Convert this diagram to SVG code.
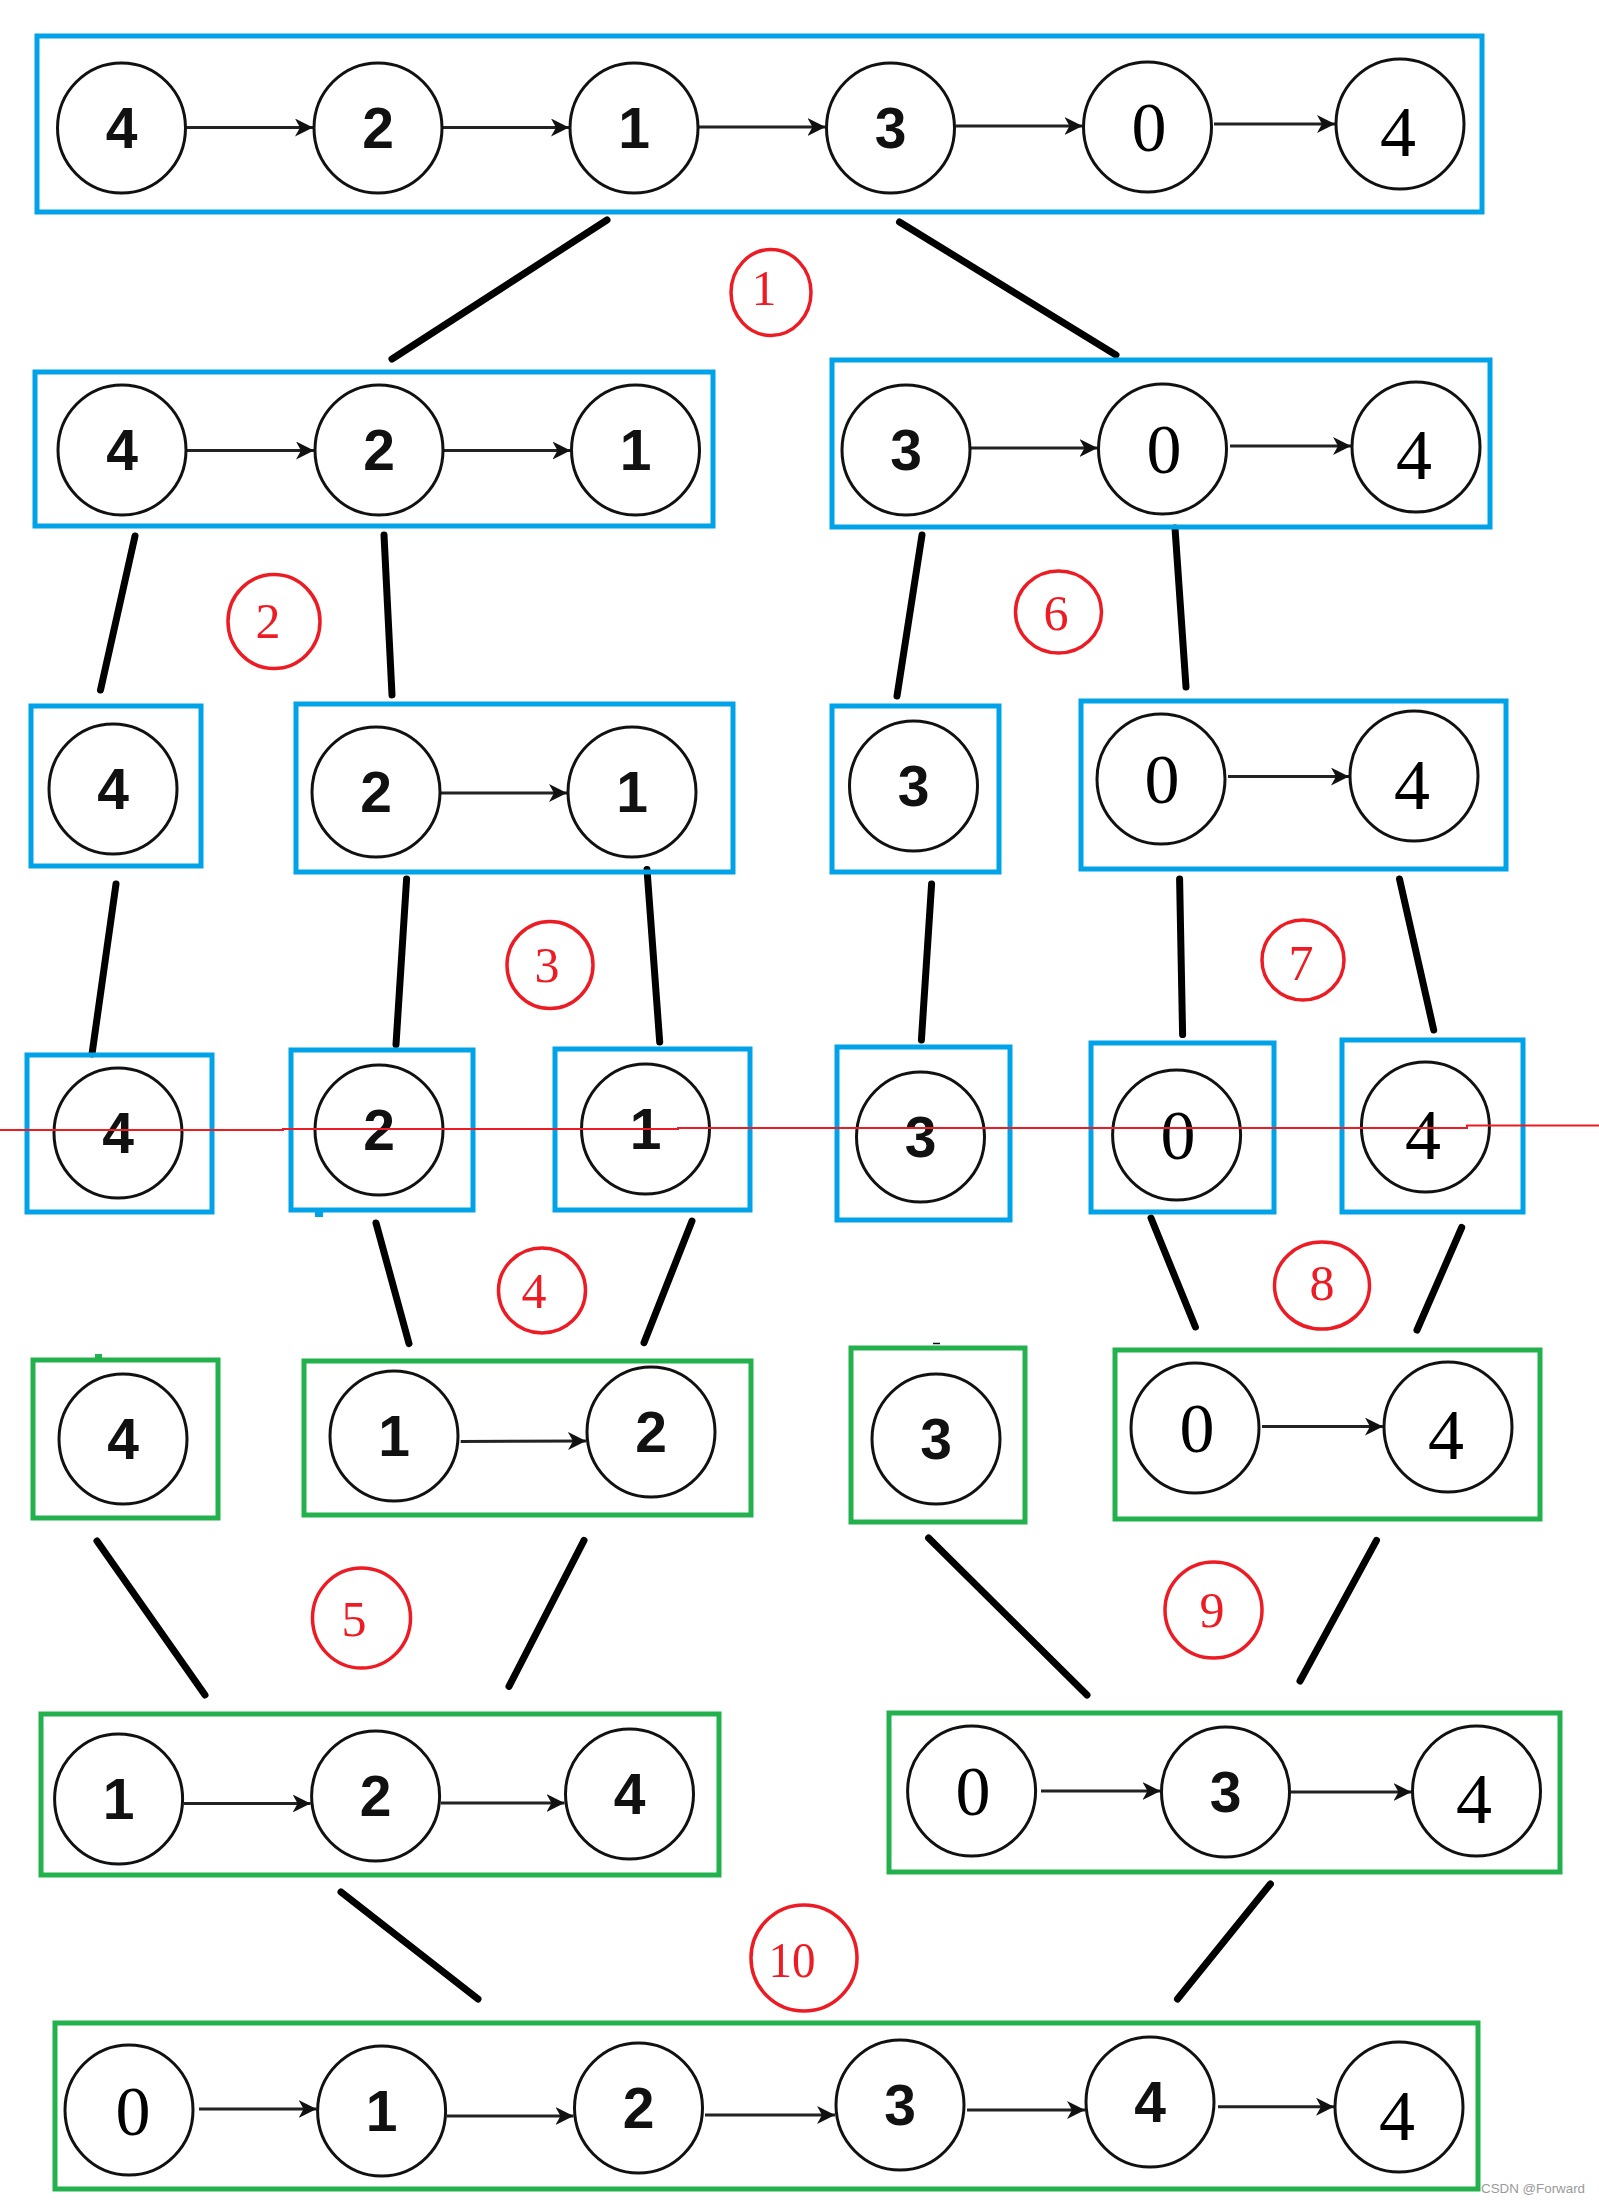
<svg xmlns="http://www.w3.org/2000/svg" width="1599" height="2203" viewBox="0 0 1599 2203">
<defs>
<marker id="ah" markerUnits="userSpaceOnUse" markerWidth="22" markerHeight="20" refX="18" refY="9" orient="auto" viewBox="0 0 22 20">
<path d="M0,0 L18,9 L0,18 L5,9 Z" fill="#111"/>
</marker>
<style>
.bb{fill:none;stroke:#00a2e8;stroke-width:5}
.bg{fill:none;stroke:#22b14c;stroke-width:5}
.c{fill:#fff;stroke:#111;stroke-width:3}
.s{font-family:"Liberation Sans",Arial,sans-serif;font-weight:bold;font-size:57px;text-anchor:middle;fill:#111}
.t{font-family:"Liberation Serif","Times New Roman",serif;font-size:70px;text-anchor:middle;fill:#000}
.t4{font-size:72px}
.link{stroke:#000;stroke-width:7;stroke-linecap:round;fill:none}
.arr{stroke:#222;stroke-width:3;fill:none;marker-end:url(#ah)}
.rc{fill:none;stroke:#ed1c24;stroke-width:3.5}
.rt{font-family:"Liberation Serif","Times New Roman",serif;font-size:50px;text-anchor:middle;fill:#ed1c24}
.wm{font-family:"Liberation Sans",Arial,sans-serif;font-size:13px;fill:#9a9a9a}
</style>
</defs>
<rect width="1599" height="2203" fill="#fff"/>

<g id="connectors">
<g id="split-merge-lines">
<line class="link" x1="607" y1="220" x2="392" y2="359"/>
<line class="link" x1="899.5" y1="222" x2="1116" y2="355"/>
<line class="link" x1="135" y1="536" x2="100.5" y2="690"/>
<line class="link" x1="384" y1="535" x2="392" y2="695"/>
<line class="link" x1="922" y1="535" x2="897" y2="696"/>
<line class="link" x1="1175" y1="528" x2="1186" y2="687"/>
<line class="link" x1="116" y1="884" x2="92" y2="1054"/>
<line class="link" x1="406.6" y1="879" x2="396" y2="1044.5"/>
<line class="link" x1="647" y1="869.5" x2="659.7" y2="1042"/>
<line class="link" x1="931.6" y1="884" x2="921.4" y2="1040"/>
<line class="link" x1="1179.6" y1="879" x2="1182.6" y2="1034.6"/>
<line class="link" x1="1399.5" y1="879" x2="1433.7" y2="1030"/>
<line class="link" x1="376" y1="1223" x2="409" y2="1343.6"/>
<line class="link" x1="692" y1="1221" x2="644" y2="1342.7"/>
<line class="link" x1="1151" y1="1218" x2="1195.4" y2="1327"/>
<line class="link" x1="1461.7" y1="1227.5" x2="1417" y2="1330"/>
<line class="link" x1="97" y1="1541" x2="205" y2="1695"/>
<line class="link" x1="584" y1="1540.4" x2="509" y2="1686.4"/>
<line class="link" x1="928.6" y1="1538" x2="1087" y2="1695"/>
<line class="link" x1="1376.5" y1="1540.4" x2="1300" y2="1681"/>
<line class="link" x1="341" y1="1892" x2="478" y2="1999"/>
<line class="link" x1="1270.4" y1="1884" x2="1177.5" y2="1999"/>
</g>
<g id="list-arrows">
<line class="arr" x1="186.5" y1="127.5" x2="313" y2="127.5"/>
<line class="arr" x1="443" y1="127.5" x2="569" y2="127.5"/>
<line class="arr" x1="699" y1="127" x2="825.5" y2="127"/>
<line class="arr" x1="955.5" y1="126" x2="1082.5" y2="126"/>
<line class="arr" x1="1214" y1="124" x2="1335" y2="124"/>
<line class="arr" x1="187" y1="450.5" x2="314" y2="450.5"/>
<line class="arr" x1="444" y1="450.5" x2="570.5" y2="450.5"/>
<line class="arr" x1="971" y1="448" x2="1097.5" y2="448"/>
<line class="arr" x1="1230" y1="446" x2="1351" y2="446"/>
<line class="arr" x1="441" y1="793" x2="567" y2="793"/>
<line class="arr" x1="1228" y1="776.6" x2="1349" y2="776.6"/>
<line class="arr" x1="460.7" y1="1441.5" x2="586" y2="1441"/>
<line class="arr" x1="1262" y1="1426.6" x2="1383" y2="1426.6"/>
<line class="arr" x1="184" y1="1803.5" x2="310.6" y2="1803.5"/>
<line class="arr" x1="441" y1="1803" x2="564.5" y2="1803"/>
<line class="arr" x1="1041" y1="1791" x2="1160.5" y2="1791"/>
<line class="arr" x1="1291" y1="1792" x2="1411.5" y2="1792"/>
<line class="arr" x1="199" y1="2109" x2="316.6" y2="2109"/>
<line class="arr" x1="447" y1="2116" x2="573.5" y2="2116"/>
<line class="arr" x1="705" y1="2115" x2="835" y2="2115"/>
<line class="arr" x1="967" y1="2110" x2="1085" y2="2110"/>
<line class="arr" x1="1218" y1="2106.7" x2="1334" y2="2106.7"/>
</g>
</g>

<g id="row1-421304">
<rect class="bb" x="37" y="36" width="1445" height="176"/>
<ellipse class="c" cx="121.5" cy="128" rx="64" ry="65"/><text class="s" x="121.5" y="148">4</text>
<ellipse class="c" cx="378" cy="128" rx="64" ry="65"/><text class="s" x="378" y="148">2</text>
<ellipse class="c" cx="634" cy="128" rx="64" ry="65"/><text class="s" x="634" y="148">1</text>
<ellipse class="c" cx="890.5" cy="128" rx="64" ry="65"/><text class="s" x="890.5" y="148">3</text>
<ellipse class="c" cx="1147.5" cy="127" rx="64" ry="65"/><text class="t" x="1149" y="151">0</text>
<ellipse class="c" cx="1400" cy="124" rx="64" ry="65"/><text class="t t4" x="1398" y="156">4</text>
</g>

<g id="row2-421">
<rect class="bb" x="35" y="372" width="678" height="154"/>
<ellipse class="c" cx="122" cy="450" rx="64" ry="65"/><text class="s" x="122" y="470">4</text>
<ellipse class="c" cx="379" cy="450" rx="64" ry="65"/><text class="s" x="379" y="470">2</text>
<ellipse class="c" cx="635.5" cy="450" rx="64" ry="65"/><text class="s" x="635.5" y="470">1</text>
</g>
<g id="row2-304">
<rect class="bb" x="832" y="360" width="658" height="167"/>
<ellipse class="c" cx="906" cy="450" rx="64" ry="65"/><text class="s" x="906" y="470">3</text>
<ellipse class="c" cx="1162.5" cy="449" rx="64" ry="65"/><text class="t" x="1164" y="473">0</text>
<ellipse class="c" cx="1416" cy="447" rx="64" ry="65"/><text class="t t4" x="1414" y="479">4</text>
</g>

<g id="row3-4">
<rect class="bb" x="31" y="706" width="170" height="160"/>
<ellipse class="c" cx="113" cy="789" rx="64" ry="65"/><text class="s" x="113" y="809">4</text>
</g>
<g id="row3-21">
<rect class="bb" x="296" y="704" width="437" height="168"/>
<ellipse class="c" cx="376" cy="792" rx="64" ry="65"/><text class="s" x="376" y="812">2</text>
<ellipse class="c" cx="632" cy="792" rx="64" ry="65"/><text class="s" x="632" y="812">1</text>
</g>
<g id="row3-3">
<rect class="bb" x="832" y="706" width="167" height="166"/>
<ellipse class="c" cx="913.5" cy="786" rx="64" ry="65"/><text class="s" x="913.5" y="806">3</text>
</g>
<g id="row3-04">
<rect class="bb" x="1081" y="701" width="425" height="168"/>
<ellipse class="c" cx="1161" cy="779" rx="64" ry="65"/><text class="t" x="1162" y="803">0</text>
<ellipse class="c" cx="1414" cy="776" rx="64" ry="65"/><text class="t t4" x="1412" y="809">4</text>
</g>

<g id="row4-4a">
<rect class="bb" x="27" y="1055" width="185" height="157"/>
<ellipse class="c" cx="118" cy="1133" rx="64" ry="65"/><text class="s" x="118" y="1153">4</text>
</g>
<g id="row4-2">
<rect class="bb" x="291" y="1050" width="182" height="160"/>
<rect x="315" y="1210" width="8" height="7" fill="#00a2e8"/>
<ellipse class="c" cx="379" cy="1130" rx="64" ry="65"/><text class="s" x="379" y="1150">2</text>
</g>
<g id="row4-1">
<rect class="bb" x="555" y="1049" width="195" height="161"/>
<ellipse class="c" cx="645.5" cy="1129" rx="64" ry="65"/><text class="s" x="645.5" y="1149">1</text>
</g>
<g id="row4-3">
<rect class="bb" x="837" y="1047" width="173" height="173"/>
<ellipse class="c" cx="920.5" cy="1137" rx="64" ry="65"/><text class="s" x="920.5" y="1157">3</text>
</g>
<g id="row4-0">
<rect class="bb" x="1091" y="1043" width="183" height="169"/>
<ellipse class="c" cx="1176.6" cy="1135" rx="64" ry="65"/><text class="t" x="1178" y="1159">0</text>
</g>
<g id="row4-4b">
<rect class="bb" x="1342" y="1040" width="181" height="172"/>
<ellipse class="c" cx="1425.4" cy="1127" rx="64" ry="65"/><text class="t t4" x="1423" y="1159">4</text>
</g>

<g id="row5-4">
<rect class="bg" x="33" y="1360" width="185" height="158"/>
<rect x="95" y="1354" width="7" height="6" fill="#22b14c"/>
<ellipse class="c" cx="123" cy="1439" rx="64" ry="65"/><text class="s" x="123" y="1459">4</text>
</g>
<g id="row5-12">
<rect class="bg" x="304" y="1361" width="447" height="154"/>
<ellipse class="c" cx="394" cy="1436" rx="64" ry="65"/><text class="s" x="394" y="1456">1</text>
<ellipse class="c" cx="651" cy="1432" rx="64" ry="65"/><text class="s" x="651" y="1452">2</text>
</g>
<g id="row5-3">
<rect class="bg" x="851" y="1348" width="174" height="174"/>
<line x1="933" y1="1343.5" x2="940" y2="1343.5" stroke="#111" stroke-width="1.5"/>
<ellipse class="c" cx="936" cy="1439" rx="64" ry="65"/><text class="s" x="936" y="1459">3</text>
</g>
<g id="row5-04">
<rect class="bg" x="1115" y="1350" width="425" height="169"/>
<ellipse class="c" cx="1195" cy="1428" rx="64" ry="65"/><text class="t" x="1197" y="1452">0</text>
<ellipse class="c" cx="1448" cy="1427" rx="64" ry="65"/><text class="t t4" x="1446" y="1459">4</text>
</g>

<g id="row6-124">
<rect class="bg" x="41" y="1714" width="678" height="161"/>
<ellipse class="c" cx="118.6" cy="1799" rx="64" ry="65"/><text class="s" x="118.6" y="1819">1</text>
<ellipse class="c" cx="375.6" cy="1796" rx="64" ry="65"/><text class="s" x="375.6" y="1816">2</text>
<ellipse class="c" cx="629.5" cy="1794" rx="64" ry="65"/><text class="s" x="629.5" y="1814">4</text>
</g>
<g id="row6-034">
<rect class="bg" x="889" y="1713" width="671" height="159"/>
<ellipse class="c" cx="971.6" cy="1791" rx="64" ry="65"/><text class="t" x="973" y="1815">0</text>
<ellipse class="c" cx="1225.5" cy="1792" rx="64" ry="65"/><text class="s" x="1225.5" y="1812">3</text>
<ellipse class="c" cx="1476.5" cy="1791" rx="64" ry="65"/><text class="t t4" x="1474" y="1823">4</text>
</g>

<g id="row7-012344">
<rect class="bg" x="55" y="2023" width="1423" height="166"/>
<ellipse class="c" cx="129" cy="2110" rx="64" ry="65"/><text class="t" x="133" y="2135">0</text>
<ellipse class="c" cx="381.6" cy="2111" rx="64" ry="65"/><text class="s" x="381.6" y="2131">1</text>
<ellipse class="c" cx="638.5" cy="2108" rx="64" ry="65"/><text class="s" x="638.5" y="2128">2</text>
<ellipse class="c" cx="900" cy="2105" rx="64" ry="65"/><text class="s" x="900" y="2125">3</text>
<ellipse class="c" cx="1150" cy="2102" rx="64" ry="65"/><text class="s" x="1150" y="2122">4</text>
<ellipse class="c" cx="1399" cy="2107" rx="64" ry="65"/><text class="t t4" x="1397" y="2140">4</text>
</g>

<g id="step-labels">
<ellipse class="rc" cx="771" cy="292.5" rx="40" ry="43"/><text class="rt" x="764" y="305">1</text>
<ellipse class="rc" cx="274" cy="621.5" rx="46" ry="47"/><text class="rt" x="268" y="638">2</text>
<ellipse class="rc" cx="550" cy="965" rx="43" ry="43.5"/><text class="rt" x="547" y="982">3</text>
<ellipse class="rc" cx="542" cy="1290.5" rx="43.5" ry="42.5"/><text class="rt" x="534" y="1308">4</text>
<ellipse class="rc" cx="361.5" cy="1618" rx="49" ry="50"/><text class="rt" x="354" y="1636">5</text>
<ellipse class="rc" cx="1058.5" cy="612" rx="43" ry="41"/><text class="rt" x="1056" y="630">6</text>
<ellipse class="rc" cx="1303" cy="960" rx="41" ry="40"/><text class="rt" x="1301" y="980">7</text>
<ellipse class="rc" cx="1322" cy="1285.6" rx="47.5" ry="43.5"/><text class="rt" x="1322" y="1300">8</text>
<ellipse class="rc" cx="1213.5" cy="1610" rx="48.5" ry="48"/><text class="rt" x="1212" y="1627">9</text>
<ellipse class="rc" cx="804" cy="1958" rx="53" ry="53"/><text class="rt" x="792" y="1977" font-size="53" textLength="47" lengthAdjust="spacingAndGlyphs">10</text>
</g>

<polyline points="0,1130 283,1130 283,1129 678,1129 678,1128 1467,1128 1467,1125.5 1599,1125.5" fill="none" stroke="#ed1c24" stroke-width="2"/>

<text class="wm" x="1481" y="2193" textLength="104" lengthAdjust="spacingAndGlyphs">CSDN @Forward</text>
</svg>
